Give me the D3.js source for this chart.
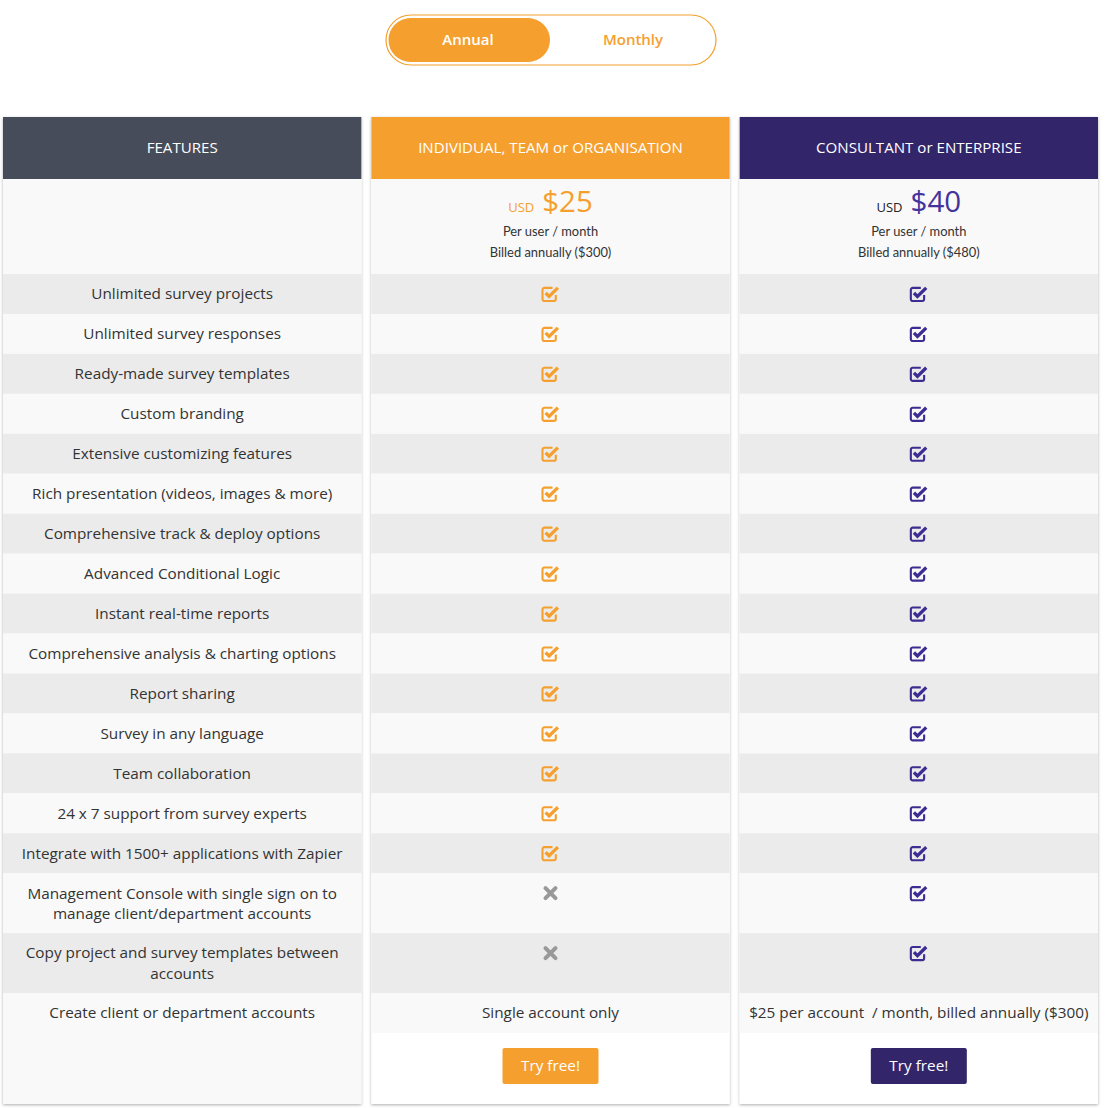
<!DOCTYPE html>
<html>
<head>
<meta charset="utf-8">
<script src="https://cdn.jsdelivr.net/npm/d3@7"></script>
<style>
  body { margin: 0; background: #fff; }
  svg { display: block; }
</style>
</head>
<body>
<svg id="chart"></svg>
<script>
// donnees du tableau
const toggleLabels = ["Annual", "Monthly"];
const plans = ["FEATURES", "INDIVIDUAL, TEAM or ORGANISATION", "CONSULTANT or ENTERPRISE"];
const prices = [null, 25, 40];
const billedYearly = [null, 300, 480];
const features = [
  "Unlimited survey projects",
  "Unlimited survey responses",
  "Ready-made survey templates",
  "Custom branding",
  "Extensive customizing features",
  "Rich presentation (videos, images & more)",
  "Comprehensive track & deploy options",
  "Advanced Conditional Logic",
  "Instant real-time reports",
  "Comprehensive analysis & charting options",
  "Report sharing",
  "Survey in any language",
  "Team collaboration",
  "24 x 7 support from survey experts",
  "Integrate with 1500+ applications with Zapier",
  "Management Console with single sign on to manage client/department accounts",
  "Copy project and survey templates between accounts",
  "Create client or department accounts"
];
const individual = [true, true, true, true, true, true, true, true, true, true, true, true, true, true, true, false, false, "Single account only"];
const enterprise = [true, true, true, true, true, true, true, true, true, true, true, true, true, true, true, true, true, "$25 per account  / month, billed annually ($300)"];
const buttonLabel = "Try free!";

const W = 1108, H = 1108;
const orange = "#f5a02e", purple = "#33256a", purpleLight = "#43339c", slate = "#474c5b";
const headColors = [slate, orange, purple];
const iconColors = [null, orange, "#3d2c92"];
const bodyFont = "15.3px";

const svg = d3.select('#chart').attr("width", W).attr("height", H);

const defs = svg.append("defs");
const f = defs.append("filter").attr("id", "shadow")
  .attr("x", "-5%").attr("y", "-2%").attr("width", "110%").attr("height", "104%");
f.append("feDropShadow").attr("dx", 0).attr("dy", 1).attr("stdDeviation", 1.8)
  .attr("flood-color", "#000").attr("flood-opacity", 0.32);

// toggle annual / monthly
const tg = svg.append("g");
tg.append("rect").attr("x", 386).attr("y", 15).attr("width", 330).attr("height", 50)
  .attr("rx", 25).attr("fill", "#fff").attr("stroke", orange).attr("stroke-width", 1.2);
tg.append("rect").attr("x", 388.5).attr("y", 18).attr("width", 161.5).attr("height", 44)
  .attr("rx", 22).attr("fill", orange);
tg.selectAll("text.tog").data(toggleLabels).join("text")
  .attr("class", "tog")
  .attr("x", (d, i) => i === 0 ? 468 : 633).attr("y", 40)
  .attr("dy", "0.35em").attr("text-anchor", "middle")
  .style("font-family", "'Open Sans'").style("font-size", "15px").style("font-weight", 600)
  .attr("fill", (d, i) => i === 0 ? "#fff" : orange)
  .text(d => d);

// echelles
const x = d3.scaleBand().domain(plans).range([3, 1098]).paddingInner(0.0271).paddingOuter(0);
const colTop = 117, headH = 62, priceBottom = 274, tableBottom = 1033, colBottom = 1104;

// hauteur des lignes : 2 unites par ligne simple, 3 pour deux lignes
const wrapWidth = 336;
const measure = svg.append("text").style("font-family", "'Open Sans'").style("font-size", bodyFont);
function splitLines(str) {
  const words = str.split(" ");
  const lines = [];
  let cur = "";
  words.forEach(w => {
    const t = cur ? cur + " " + w : w;
    measure.text(t);
    if (measure.node().getComputedTextLength() > wrapWidth && cur) {
      lines.push(cur);
      cur = w;
    } else cur = t;
  });
  lines.push(cur);
  return lines;
}
const featLines = features.map(splitLines);
measure.remove();
const units = featLines.map(l => l.length === 1 ? 2 : 3);
const starts = [0, ...d3.cumsum(units)];
const y = d3.scaleLinear().domain([0, d3.sum(units)]).range([priceBottom, tableBottom]);

const cols = svg.selectAll("g.col").data(plans).join("g").attr("class", "col");

// fond + ombre
cols.append("rect")
  .attr("x", d => x(d)).attr("y", colTop)
  .attr("width", x.bandwidth()).attr("height", colBottom - colTop)
  .attr("fill", (d, i) => i === 0 ? "#f9f9f9" : "#fff")
  .attr("filter", "url(#shadow)");

// entete
cols.append("rect")
  .attr("x", d => x(d)).attr("y", colTop)
  .attr("width", x.bandwidth()).attr("height", headH)
  .attr("fill", (d, i) => headColors[i]);
cols.append("text")
  .attr("x", d => x(d) + x.bandwidth() / 2).attr("y", colTop + headH / 2)
  .attr("dy", "0.35em").attr("text-anchor", "middle")
  .style("font-family", "'Open Sans'").style("font-size", "15.1px")
  .attr("fill", "#fff")
  .text(d => d);

// bloc prix
cols.append("rect")
  .attr("x", d => x(d)).attr("y", colTop + headH)
  .attr("width", x.bandwidth()).attr("height", priceBottom - colTop - headH)
  .attr("fill", "#f9f9f9");

const priceCols = cols.filter((d, i) => prices[i] !== null);
priceCols.each(function(d) {
  const i = plans.indexOf(d);
  const g = d3.select(this);
  const cx = x(d) + x.bandwidth() / 2;
  const t = g.append("text").attr("x", cx).attr("y", 212).attr("text-anchor", "middle")
    .style("font-family", "'Open Sans'");
  t.append("tspan").style("font-size", "13px")
    .attr("fill", i === 1 ? orange : "#222").text("USD");
  t.append("tspan").attr("dx", 8).style("font-size", "29.5px")
    .attr("fill", i === 1 ? orange : purpleLight).text("$" + prices[i]);
  g.append("text").attr("x", cx).attr("y", 236).attr("text-anchor", "middle")
    .style("font-family", "Lato").style("font-size", "12.9px").attr("fill", "#333")
    .text("Per user / month");
  g.append("text").attr("x", cx).attr("y", 257).attr("text-anchor", "middle")
    .style("font-family", "Lato").style("font-size", "12.9px").attr("fill", "#333")
    .text("Billed annually ($" + billedYearly[i] + ")");
});

// lignes
const rowFill = i => i % 2 === 0 ? "#ebebeb" : "#f9f9f9";
cols.each(function(d, ci) {
  const g = d3.select(this);
  const vals = ci === 0 ? features : ci === 1 ? individual : enterprise;
  const cx = x(d) + x.bandwidth() / 2;
  const rows = g.selectAll("g.row").data(vals).join("g").attr("class", "row");
  rows.append("rect")
    .attr("x", x(d)).attr("y", (v, i) => y(starts[i]))
    .attr("width", x.bandwidth()).attr("height", (v, i) => y(starts[i + 1]) - y(starts[i]))
    .attr("fill", (v, i) => rowFill(i));

  rows.each(function(v, i) {
    const r = d3.select(this);
    const top = y(starts[i]);
    if (typeof v === "string") {
      const lines = ci === 0 ? featLines[i] : [v];
      const t = r.append("text").attr("text-anchor", "middle")
        .style("font-family", "'Open Sans'").style("font-size", bodyFont)
        .style("white-space", "pre").attr("fill", "#333");
      lines.forEach((l, k) => {
        t.append("tspan").attr("x", cx).attr("y", top + 20 + k * 20.5).attr("dy", "0.35em").text(l);
      });
    } else if (v === true) {
      const ic = r.append("g").attr("transform", `translate(${cx - 9},${top + 20 - 8.5})`)
        .attr("fill", "none").attr("stroke", iconColors[ci]);
      ic.append("path")
        .attr("d", "M14.3,9.5 V13.6 a1.9,1.9 0 0 1 -1.9,1.9 H2.9 a1.9,1.9 0 0 1 -1.9,-1.9 V4.3 a1.9,1.9 0 0 1 1.9,-1.9 H11")
        .attr("stroke-width", 2.1);
      ic.append("path")
        .attr("d", "M4.1,7.5 L7.6,11 L16.4,2.4")
        .attr("stroke-width", 3.3).attr("stroke-linejoin", "miter");
    } else {
      r.append("path")
        .attr("transform", `translate(${cx},${top + 20})`)
        .attr("d", "M-5,-5 L5,5 M5,-5 L-5,5")
        .attr("stroke", "#999").attr("stroke-width", 4).attr("stroke-linecap", "round");
    }
  });
});

// boutons
const btnCols = cols.filter((d, i) => i > 0);
btnCols.append("rect")
  .attr("x", d => x(d) + x.bandwidth() / 2 - 48).attr("y", 1048)
  .attr("width", 96).attr("height", 36).attr("rx", 2)
  .attr("fill", (d, i) => i === 0 ? orange : purple);
btnCols.append("text")
  .attr("x", d => x(d) + x.bandwidth() / 2).attr("y", 1066)
  .attr("dy", "0.35em").attr("text-anchor", "middle")
  .style("font-family", "'Open Sans'").style("font-size", bodyFont)
  .attr("fill", "#fff")
  .text(buttonLabel);
</script>
</body>
</html>
